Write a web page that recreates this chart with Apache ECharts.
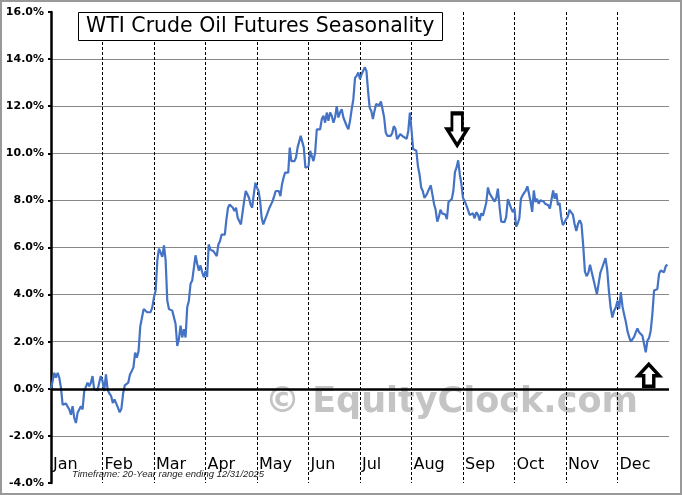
<!DOCTYPE html>
<html>
<head>
<meta charset="utf-8">
<script src="https://cdn.jsdelivr.net/npm/echarts@6/dist/echarts.min.js"></script>
<style>
html, body { margin: 0; padding: 0; background: #fff; }
#wrap { position: relative; width: 682px; height: 495px; }
#chart { width: 682px; height: 495px; }
#frame { position: absolute; left: 0; top: 0; width: 682px; height: 495px; box-sizing: border-box; border: 2px solid #999; pointer-events: none; }
</style>
</head>
<body>
<div id="wrap"><div id="chart"></div><div id="frame"></div></div>
<script>
// month names on the x axis
const months = ['Jan', 'Feb', 'Mar', 'Apr', 'May', 'Jun', 'Jul', 'Aug', 'Sep', 'Oct', 'Nov', 'Dec']

// seasonal return (%), one array per month
const jan = [0, 0.33, 0.68, 0.47, 0.68, 0.47, 0.04, -0.67, -0.67, -0.63, -0.67, -0.88, -1.1, -0.74, -1.24, -1.45, -1.02, -0.88, -0.74, -0.88, -0.1, -0.03, 0.26, 0.11, 0.26, 0.54, -0.03, 0.04, -0.06, 0.26, 0.54]
const feb = [0.33, -0.1, 0.61, -0.05, -0.2, -0.3, -0.6, -0.45, -0.5, -0.8, -1.0, -0.85, -0.2, 0.15, 0.1, 0.26, 0.61, 0.75, 0.9, 1.54, 1.32, 1.6, 2.65, 3.03, 3.39, 3.32, 3.25, 3.32, 3.25, 3.46]
const mar = [3.89, 4.17, 5.45, 5.95, 5.88, 5.6, 6.09, 5.45, 3.74, 3.39, 3.32, 3.32, 3.25, 2.75, 1.82, 2.11, 2.68, 2.18, 2.53, 2.18, 3.46, 3.74, 4.46, 4.6, 4.67, 5.67, 5.31, 5.02, 5.24, 4.95, 4.74]
const apr = [5.0, 4.75, 6.13, 5.91, 5.84, 5.84, 5.77, 5.63, 6.13, 6.27, 6.55, 6.62, 6.55, 7.19, 7.69, 7.83, 7.87, 7.69, 7.55, 7.69, 7.26, 7.33, 6.98, 6.91, 7.97, 8.4, 8.26, 8.11, 7.83, 7.69, 8.26, 8.75]
const may = [8.54, 8.4, 7.97, 7.26, 6.98, 7.05, 7.33, 7.26, 7.69, 7.76, 7.97, 8.18, 8.4, 8.43, 8.4, 8.18, 8.68, 8.96, 9.18, 9.25, 9.18, 10.24, 9.67, 9.74, 9.67, 9.82, 10.24, 10.31, 10.74, 10.67, 10.24, 9.39, 9.32]
const jun = [9.45, 10.1, 10.17, 9.67, 10.03, 11.02, 11.09, 11.02, 11.45, 11.59, 11.3, 11.73, 11.38, 11.73, 11.59, 11.3, 11.52, 12.0, 11.52, 11.73, 11.87, 11.52, 11.45, 11.16, 11.02, 11.38, 11.87, 12.3, 13.2, 13.29, 13.43]
const jul = [13.15, 13.36, 13.29, 13.65, 13.5, 12.65, 11.94, 11.8, 11.45, 11.8, 12.09, 12.01, 12.04, 12.2, 11.87, 11.52, 10.88, 10.74, 10.67, 10.74, 10.85, 11.15, 11.05, 10.6, 10.67, 10.81, 10.74, 10.7, 10.67, 10.62, 10.95, 11.73]
const aug = [11.0, 10.18, 10.18, 10.11, 9.45, 9.1, 8.55, 8.4, 8.11, 8.2, 8.34, 8.5, 8.64, 8.6, 7.85, 7.6, 7.1, 7.3, 7.6, 7.45, 7.38, 7.4, 7.2, 7.94, 8.01, 8.05, 8.4, 9.2, 9.4, 9.7, 9.1, 8.7]
const sep = [8.1, 7.97, 7.8, 7.6, 7.38, 7.31, 7.45, 7.24, 7.5, 7.4, 7.15, 7.45, 7.35, 7.3, 7.9, 8.55, 8.3, 8.18, 8.1, 7.95, 8.1, 8.5, 7.73, 7.1, 7.1, 7.08, 7.3, 8.05, 8.1, 7.66, 7.5]
const oct = [7.65, 6.88, 7.02, 7.23, 8.07, 8.21, 8.32, 8.42, 8.6, 8.28, 7.93, 7.51, 8.42, 7.93, 8.07, 7.86, 8.0, 7.93, 7.96, 7.86, 7.82, 7.79, 7.65, 7.58, 8.42, 8.07, 8.3, 7.8, 7.9, 7.3, 6.95, 7.05]
const nov = [7.2, 7.3, 7.6, 7.6, 7.4, 7.0, 6.7, 7.0, 7.16, 7.0, 6.11, 4.99, 4.78, 4.92, 5.27, 5.2, 4.64, 4.57, 4.01, 4.01, 4.92, 5.13, 5.06, 5.55, 5.06, 4.15, 3.45, 3.03, 3.31, 3.45]
const dec = [3.74, 3.39, 4.1, 3.5, 3.15, 2.85, 2.45, 2.2, 2.0, 2.0, 2.2, 2.4, 2.56, 2.4, 2.33, 2.25, 1.9, 1.55, 2.04, 2.16, 2.47, 3.18, 4.17, 4.2, 4.24, 4.88, 5.02, 5.09, 4.95, 5.2, 5.28]

const monthly = [jan, feb, mar, apr, may, jun, jul, aug, sep, oct, nov, dec]

// y axis range (%)
const yMin = -4, yMax = 16, yStep = 2

// each month's values spread evenly across that month on the axis
function buildPoints() {
  const pts = []
  monthly.forEach((arr, m) => {
    arr.forEach((v, j) => pts.push([m + j / arr.length, v]))
  })
  return pts
}

// point of the max (or min) inside one month from a given index, for the arrows
function extremeOf(m, useMax, from) {
  const arr = monthly[m]
  let k = from
  for (let j = from; j < arr.length; j++) {
    if (useMax ? arr[j] > arr[k] : arr[j] < arr[k]) k = j
  }
  return [m + k / arr.length, arr[k]]
}

const downArrow = 'path://M6,0 L17,0 L17,17 L22,17 L11.5,34 L1,17 L6,17 Z'
const upArrow = 'path://M11.5,0 L23,13 L17,13 L17,25 L6,25 L6,13 L0,13 Z'

const chart = echarts.init(document.getElementById('chart'))

const option = {
  animation: false,
  title: [{
    text: 'WTI Crude Oil Futures Seasonality',
    left: 78,
    top: 12,
    padding: [4, 8, 4, 8],
    borderColor: '#000',
    borderWidth: 1,
    backgroundColor: '#fff',
    textStyle: { fontFamily: 'DejaVu Sans', fontSize: 20.5, fontWeight: 'normal', color: '#000' }
  }, {
    text: 'Timeframe: 20-Year range ending 12/31/2025',
    left: 72,
    top: 469,
    padding: 0,
    textStyle: { fontFamily: 'Liberation Sans', fontStyle: 'italic', fontSize: 9.5, fontWeight: 'normal', color: '#222' }
  }],
  graphic: [{
    type: 'text',
    left: 265,
    top: 385,
    z: -10,
    style: { text: '© EquityClock.com', font: 'bold 35px "DejaVu Sans"', fill: '#c4c4c4' }
  }],
  grid: { left: 51, right: 13, top: 12, bottom: 12 },
  xAxis: {
    type: 'value',
    min: 0,
    max: 12,
    interval: 1,
    axisLine: { show: false },
    axisTick: { show: false },
    axisLabel: {
      inside: true,
      margin: 10,
      align: 'left',
      padding: [0, 0, 0, 2],
      fontFamily: 'DejaVu Sans',
      fontSize: 16,
      color: '#000',
      showMaxLabel: false,
      formatter: v => months[v] || ''
    },
    splitLine: {
      show: true,
      showMinLine: false,
      showMaxLine: false,
      lineStyle: { color: '#000', type: [3, 2], width: 1 }
    }
  },
  yAxis: {
    type: 'value',
    min: yMin,
    max: yMax,
    interval: yStep,
    axisLine: { show: true, lineStyle: { color: '#000', width: 2.5 } },
    axisTick: { show: true, length: 3, lineStyle: { color: '#000', width: 2 } },
    axisLabel: {
      margin: 7,
      fontFamily: 'DejaVu Sans',
      fontWeight: 'bold',
      fontSize: 11,
      color: '#000',
      formatter: v => v.toFixed(1) + '%'
    },
    splitLine: {
      show: true,
      showMinLine: false,
      showMaxLine: false,
      lineStyle: { color: '#888', width: 1 }
    }
  },
  series: [{
    type: 'line',
    data: buildPoints(),
    showSymbol: false,
    lineStyle: { color: '#4472c4', width: 2.2 },
    markLine: {
      silent: true,
      symbol: 'none',
      label: { show: false },
      lineStyle: { color: '#000', width: 2.5, type: 'solid' },
      data: [{ yAxis: 0 }]
    },
    markPoint: {
      silent: true,
      label: { show: false },
      itemStyle: { color: '#fff', borderColor: '#000', borderWidth: 3.5 },
      data: [
        { coord: extremeOf(7, true, 15), symbol: downArrow, symbolSize: [20, 32], symbolOffset: [-1, -31] },
        { coord: extremeOf(11, false, 0), symbol: upArrow, symbolSize: [21, 22], symbolOffset: [3, 23] }
      ]
    }
  }]
}

chart.setOption(option)
</script>
</body>
</html>
